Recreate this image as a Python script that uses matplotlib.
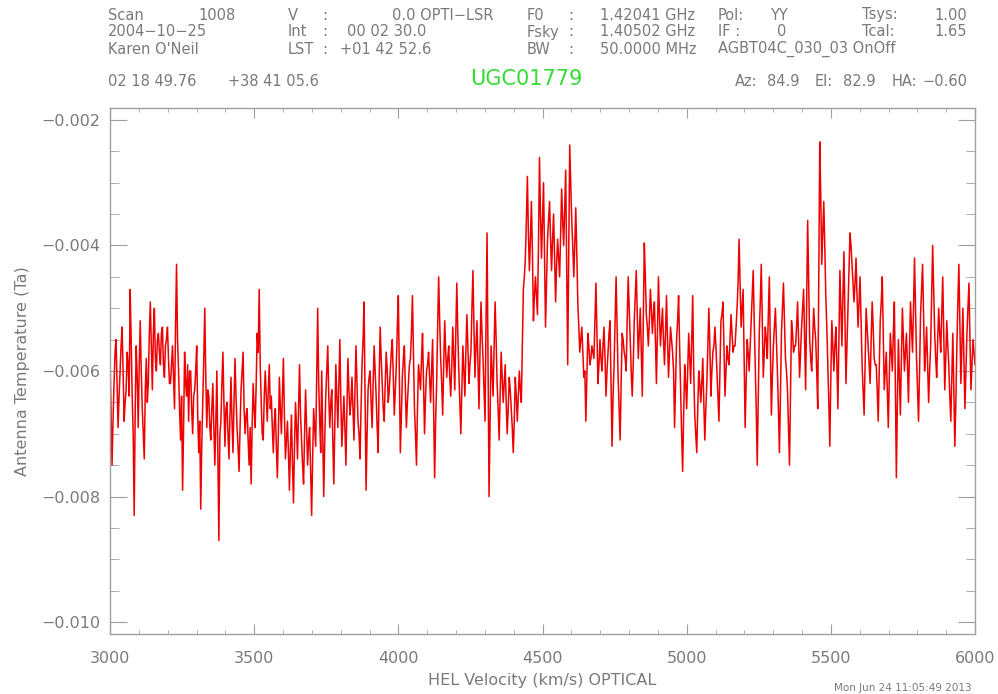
import numpy as np
import matplotlib
matplotlib.use("Agg")
import matplotlib.pyplot as plt
from matplotlib.ticker import MultipleLocator, FuncFormatter

# antenna temperature in mK (channels evenly spaced in velocity)
ta_low = [
    -5.8, -7.5, -6.2, -5.5, -6.9, -6.0, -5.3, -6.8, -6.3, -5.9,
    -4.7, -6.4, -8.3, -5.6, -6.9, -5.2, -6.6, -7.4, -5.8, -6.2,
    -4.9, -6.3, -5.0, -6.0, -5.4, -5.9, -5.3, -6.1, -5.5, -5.8,
    -6.2, -5.6, -6.6, -4.3, -6.0, -7.1, -7.9, -5.7, -6.4, -6.8,
    -6.0, -7.0, -6.3, -5.6, -7.3, -8.2, -6.5, -5.0, -6.9, -6.4,
    -7.1, -6.2, -7.5, -6.0, -8.7, -6.8, -5.7, -7.2, -6.5, -7.4,
    -6.1, -7.3, -5.8, -6.9, -7.6, -6.3, -5.7, -7.0, -6.6, -7.5,
    -7.8, -6.2, -6.9, -5.4, -4.7, -6.5, -7.1, -6.0, -6.8, -5.9,
    -6.4, -7.3, -6.6, -7.7, -6.1, -7.0, -5.8, -7.4, -6.8, -7.9,
    -6.7, -8.1, -6.5, -7.4, -5.9, -7.1, -7.8, -6.3, -7.5, -6.9,
    -8.3, -6.6, -7.2, -5.0, -6.8, -6.0, -8.0, -6.4, -5.6, -6.9,
    -6.3, -7.8, -5.9, -6.9, -5.5, -7.2, -6.4, -7.5, -5.8, -6.7,
    -6.1, -7.1, -5.6, -6.8, -7.4, -5.9, -4.9, -7.9, -6.3, -6.0,
    -6.9, -5.6, -6.4, -7.3, -5.3, -6.2, -6.8, -5.7, -6.5, -6.0,
    -5.5, -6.7, -5.9, -4.8, -7.3, -6.1, -5.6, -6.9, -6.2, -5.8,
    -4.8, -6.6, -7.5, -5.9, -6.3, -5.4, -7.0, -6.0, -5.7, -6.5,
    -5.5, -7.7, -6.2, -4.5, -5.8, -6.7, -5.2, -6.1, -5.6, -6.4,
    -5.3, -6.3, -4.6, -6.0, -7.0, -5.6, -6.4, -5.1, -6.2, -5.7,
    -4.4, -6.1, -5.2, -6.6, -4.9, -5.8, -6.8, -3.8, -8.0, -5.6,
    -6.4, -4.9, -6.2, -7.1, -5.7, -6.5, -5.9, -7.0, -6.1, -6.6,
    -7.3, -6.1, -6.8, -6.0, -6.5,
]
ta_line = [
    -4.7, -4.2, -2.9, -4.4, -3.3,
    -5.2, -4.5, -5.1, -2.6, -4.2, -3.0, -5.3, -3.9, -3.3, -4.4,
    -3.5, -4.9, -3.9, -4.5, -3.1, -4.0, -2.8, -5.9, -2.4, -3.6,
    -4.5, -3.4, -4.9,
]
ta_high = [
    -5.7, -5.3, -6.1, -6.8, -5.4, -5.9, -5.6,
    -5.8, -4.6, -6.2, -5.5, -6.0, -5.3, -6.4, -5.7, -5.2, -7.2,
    -5.9, -4.5, -6.1, -7.1, -5.4, -5.7, -6.0, -4.5, -5.5, -6.4,
    -5.2, -4.4, -5.8, -5.0, -6.4, -3.96, -5.1, -5.6, -4.7, -5.4,
    -4.9, -6.2, -4.5, -5.6, -5.0, -5.9, -4.8, -6.1, -5.3, -5.7,
    -6.9, -5.5, -4.8, -6.3, -7.6, -5.9, -6.6, -5.4, -6.2, -4.8,
    -6.7, -7.3, -6.0, -6.5, -5.8, -7.1, -6.2, -5.0, -6.4, -5.7,
    -5.3, -6.0, -6.8, -5.2, -4.9, -6.4, -5.6, -5.9, -5.1, -5.7,
    -5.6, -5.0, -3.9, -5.3, -4.7, -6.9, -5.5, -6.0, -5.2, -4.4,
    -5.9, -7.5, -5.4, -4.3, -6.1, -5.3, -5.8, -4.5, -6.7, -5.6,
    -5.0, -6.0, -7.3, -5.4, -4.6, -5.8, -6.3, -7.5, -5.2, -5.7,
    -5.6, -4.9, -6.1, -5.3, -4.7, -6.3, -3.6, -5.5, -6.0, -5.0,
    -5.5, -6.6, -2.35, -4.3, -3.3, -4.8, -5.9, -7.2, -5.2, -6.0,
    -5.3, -6.6, -4.4, -5.6, -4.1, -6.2, -5.0, -3.8, -4.3, -4.9,
    -4.2, -5.3, -4.5, -5.9, -6.7, -5.0, -5.6, -6.2, -4.9, -5.8,
    -5.9, -6.8, -5.2, -4.5, -6.3, -5.7, -6.9, -5.4, -6.0, -4.9,
    -7.7, -5.5, -6.7, -5.0, -6.0, -5.4, -6.5, -4.9, -5.7, -4.2,
    -5.8, -6.8, -5.1, -4.3, -6.0, -5.3, -6.5, -5.6, -4.0, -5.4,
    -6.1, -5.0, -5.7, -4.5, -6.3, -5.2, -5.9, -6.8, -5.4, -7.2,
    -5.6, -4.3, -6.2, -5.0, -6.6, -5.4, -4.6, -6.3, -5.5, -5.9,
]
# the channels lying between the ones above
ta_mid = [
    -6.6, -6.8, -5.7, -6.2, -6.4, -5.6, -6.0, -6.5, -5.7, -6.4,
    -5.5, -7.0, -6.6, -6.1, -5.9, -6.0, -7.0, -6.3, -6.5, -5.4,
    -5.6, -5.4, -5.8, -5.5, -5.7, -5.4, -5.9, -5.6, -5.3, -6.2,
    -5.9, -6.1, -5.3, -5.5, -6.6, -6.4, -6.9, -6.2, -5.9, -6.0,
    -6.6, -6.4, -6.0, -6.7, -6.8, -7.2, -5.8, -6.1, -6.3, -6.9,
    -6.6, -6.9, -6.8, -7.4, -7.0, -6.2, -6.5, -6.6, -7.0, -6.7,
    -6.8, -6.5, -6.4, -7.2, -6.9, -6.0, -6.6, -6.7, -7.1, -6.9,
    -6.9, -6.6, -6.2, -5.7, -5.9, -7.0, -6.4, -6.4, -6.3, -6.6,
    -6.9, -6.8, -7.2, -7.0, -6.6, -6.4, -6.7, -7.1, -7.3, -7.2,
    -7.5, -7.2, -6.9, -6.6, -6.7, -7.5, -7.0, -6.9, -7.1, -7.6,
    -7.4, -6.9, -6.1, -6.2, -7.3, -7.0, -7.1, -6.0, -6.4, -6.5,
    -7.1, -6.8, -6.4, -6.2, -6.5, -6.8, -6.9, -6.6, -6.3, -6.5,
    -6.6, -6.3, -6.2, -7.0, -6.6, -5.5, -6.4, -7.0, -6.1, -6.5,
    -6.2, -6.0, -6.9, -6.1, -5.8, -6.6, -6.2, -6.0, -6.3, -5.7,
    -6.1, -6.3, -5.3, -6.0, -6.7, -5.8, -6.3, -6.5, -5.9, -5.4,
    -5.7, -7.0, -6.6, -6.1, -5.8, -6.2, -6.4, -5.9, -6.1, -6.0,
    -6.6, -6.8, -5.3, -5.2, -6.2, -5.9, -5.7, -5.8, -6.1, -5.9,
    -5.8, -5.4, -5.4, -6.5, -6.3, -6.0, -5.7, -5.6, -5.9, -5.0,
    -5.3, -5.6, -5.9, -5.7, -5.4, -6.3, -5.2, -5.9, -6.8, -6.0,
    -5.6, -5.5, -6.6, -6.4, -6.1, -6.2, -6.5, -6.6, -6.3, -6.9,
    -6.8, -6.4, -6.4, -6.3, -5.6, -4.5, -3.6, -3.8, -3.9, -4.1,
    -4.8, -4.8, -4.0, -3.5, -3.6, -4.2, -4.6, -3.6, -3.9, -3.9,
    -4.2, -4.3, -4.2, -3.8, -3.6, -3.4, -4.4, -4.1, -3.0, -4.0,
    -4.0, -4.1, -5.3, -5.5, -5.7, -6.0, -6.1, -5.6, -5.8, -5.7,
    -5.2, -5.4, -5.9, -5.8, -5.6, -5.8, -6.0, -5.4, -6.2, -6.4,
    -5.2, -5.3, -6.6, -6.2, -5.5, -5.8, -5.2, -5.0, -6.0, -5.9,
    -4.8, -5.1, -5.4, -5.7, -5.2, -4.5, -5.3, -5.2, -5.0, -5.1,
    -5.5, -5.4, -5.1, -5.3, -5.5, -5.4, -5.5, -5.7, -5.5, -6.0,
    -6.2, -5.2, -5.6, -7.0, -6.7, -6.2, -6.0, -5.8, -5.5, -6.0,
    -7.0, -6.6, -6.2, -6.2, -6.5, -6.6, -5.6, -5.6, -6.0, -5.6,
    -5.6, -6.4, -6.0, -5.1, -5.6, -6.0, -5.8, -5.5, -5.4, -5.6,
    -5.3, -4.6, -4.6, -5.0, -5.8, -6.2, -5.7, -5.6, -4.8, -5.2,
    -6.6, -6.4, -4.9, -5.2, -5.7, -5.5, -5.1, -5.6, -6.1, -5.3,
    -5.5, -6.6, -6.4, -5.0, -5.2, -6.0, -6.9, -6.3, -5.4, -5.6,
    -5.3, -5.5, -5.7, -5.0, -5.5, -4.9, -4.6, -5.8, -5.5, -5.3,
    -6.0, -4.6, -3.2, -3.8, -4.0, -5.3, -6.5, -6.1, -5.6, -5.6,
    -5.9, -5.5, -5.0, -4.8, -5.1, -5.6, -4.4, -4.0, -4.6, -4.6,
    -4.8, -4.9, -5.2, -6.3, -5.9, -5.3, -5.9, -5.5, -5.3, -5.9,
    -6.3, -6.0, -4.9, -5.4, -6.0, -6.3, -6.1, -5.7, -5.4, -6.2,
    -6.5, -6.1, -5.8, -5.5, -5.7, -5.9, -5.7, -5.3, -5.0, -5.0,
    -6.3, -6.0, -4.7, -5.1, -5.7, -5.9, -6.0, -4.8, -4.7, -5.8,
    -5.5, -5.4, -5.1, -5.4, -5.8, -5.6, -6.4, -6.1, -6.3, -6.5,
    -4.9, -5.3, -5.6, -5.8, -6.0, -5.0, -5.5, -5.9, -5.7,
]
v_start, v_end = 3000, 6000

main = np.array(ta_low + ta_line + ta_high)
ta = np.empty(len(main) + len(ta_mid))
ta[0::2] = main
ta[1::2] = ta_mid
ta = ta / 1000.0
vel = np.linspace(v_start, v_end, len(ta))

gray = '#7a7a7a'
W, H = 998, 694
fig = plt.figure(figsize=(W / 100, H / 100), dpi=100)
ax = fig.add_axes([110 / W, 1 - 634 / H, 865 / W, 526 / H])

ax.plot(vel, ta, color='#ee0000', lw=1.1)

ax.set_xlim(3000, 6000)
ax.set_ylim(-0.01019, -0.00181)
ax.xaxis.set_major_locator(MultipleLocator(500))
ax.xaxis.set_minor_locator(MultipleLocator(100))
ax.yaxis.set_major_locator(MultipleLocator(0.002))
ax.yaxis.set_minor_locator(MultipleLocator(0.0005))
ax.yaxis.set_major_formatter(FuncFormatter(lambda v, p: f'{v:.3f}'.replace('-', '\u2212')))

for s in ax.spines.values():
    s.set_color('#a0a0a0')
    s.set_linewidth(1)
ax.tick_params(axis='both', which='both', direction='in', colors='#a0a0a0',
               labelcolor=gray, top=True, right=True, labelsize=11.5)
ax.tick_params(axis='x', which='major', length=7.2, pad=12)
ax.tick_params(axis='x', which='minor', length=3.2)
ax.tick_params(axis='y', which='major', length=12, pad=7)
ax.tick_params(axis='y', which='minor', length=6.5)

ax.set_xlabel('HEL Velocity (km/s) OPTICAL', color=gray, fontsize=11.5, labelpad=5)
ax.set_ylabel('Antenna Temperature (Ta)', color=gray, fontsize=11.5, labelpad=8)


def put(x, y, s, ha='left', **kw):
    kw.setdefault('color', gray)
    kw.setdefault('fontsize', 10.5)
    fig.text(x / W, 1 - y / H, s, ha=ha, va='center', **kw)


header = [
    (15, [(108, 'Scan'), (236, '1008', 'right'), (288, 'V'), (322, ':'),
          (494, '0.0 OPTI\u2212LSR', 'right'), (527, 'F0'), (568, ':'),
          (600, '1.42041 GHz'), (718, 'Pol:'), (770, 'YY'), (862, 'Tsys:'),
          (967, '1.00', 'right')]),
    (32, [(108, '2004\u221210\u221225'), (288, 'Int'), (322, ':'), (347, '00 02 30.0'),
          (527, 'Fsky'), (568, ':'), (600, '1.40502 GHz'), (718, 'IF :'),
          (777, '0'), (862, 'Tcal:'), (967, '1.65', 'right')]),
    (49, [(108, "Karen O'Neil"), (288, 'LST'), (322, ':'), (340, '+01 42 52.6'),
          (527, 'BW'), (568, ':'), (600, '50.0000 MHz'), (718, 'AGBT04C_030_03 OnOff')]),
    (81, [(108, '02 18 49.76'), (228, '+38 41 05.6'), (735, 'Az:'), (767, '84.9'),
          (815, 'El:'), (843, '82.9'), (892, 'HA:'), (922, '\u22120.60')]),
]
for y, items in header:
    for it in items:
        put(it[0], y, it[1], *it[2:])

put(526, 79, 'UGC01779', ha='center', color='#33dd33', fontsize=15)
put(972, 688, 'Mon Jun 24 11:05:49 2013', ha='right', fontsize=7.5)

fig.savefig('out.png', dpi=100)
